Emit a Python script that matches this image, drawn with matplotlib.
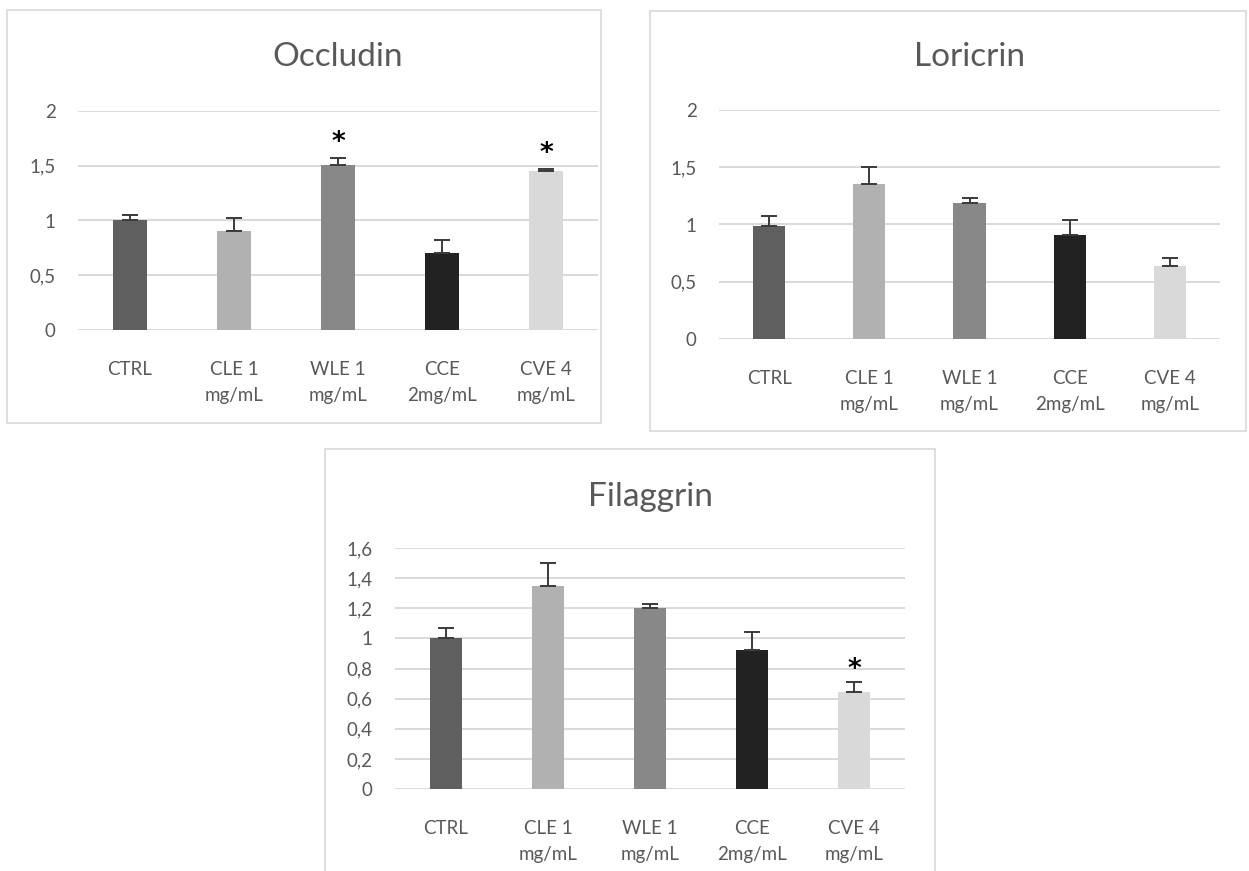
import matplotlib
matplotlib.use("Agg")
import matplotlib.pyplot as plt
from matplotlib.patches import Rectangle

plt.rcParams['font.family'] = ['Lato', 'DejaVu Sans']

categories = ["CTRL", "CLE 1\nmg/mL", "WLE 1\nmg/mL", "CCE\n2mg/mL", "CVE 4\nmg/mL"]
bar_colors = ["#5f5f5f", "#b1b1b1", "#888888", "#222222", "#d9d9d9"]

occludin_mean = [1.00, 0.90, 1.51, 0.70, 1.45]
occludin_err = [0.05, 0.12, 0.06, 0.12, 0.02]
occludin_sig = [False, False, True, False, True]
occludin_ticks = [0, 0.5, 1, 1.5, 2]
occludin_ticklabels = ["0", "0,5", "1", "1,5", "2"]

loricrin_mean = [0.99, 1.35, 1.19, 0.91, 0.64]
loricrin_err = [0.08, 0.15, 0.04, 0.13, 0.07]
loricrin_sig = [False, False, False, False, False]
loricrin_ticks = [0, 0.5, 1, 1.5, 2]
loricrin_ticklabels = ["0", "0,5", "1", "1,5", "2"]

filaggrin_mean = [1.00, 1.35, 1.20, 0.92, 0.645]
filaggrin_err = [0.07, 0.15, 0.03, 0.12, 0.065]
filaggrin_sig = [False, False, False, False, True]
filaggrin_ticks = [0, 0.2, 0.4, 0.6, 0.8, 1.0, 1.2, 1.4, 1.6]
filaggrin_ticklabels = ["0", "0,2", "0,4", "0,6", "0,8", "1", "1,2", "1,4", "1,6"]

W, H = 1249, 871
fig = plt.figure(figsize=(W / 100, H / 100), dpi=100)
fig.patch.set_facecolor("white")

TEXT = "#595959"
GRID = "#d9d9d9"


def px_axes(x0, y0, x1, y1):
    return fig.add_axes([x0 / W, 1 - y1 / H, (x1 - x0) / W, (y1 - y0) / H])


def frame(x0, y0, x1, y1):
    fig.patches.append(Rectangle((x0 / W, 1 - y1 / H), (x1 - x0) / W, (y1 - y0) / H,
                                 transform=fig.transFigure, fill=False,
                                 edgecolor=GRID, linewidth=1.2))


def panel(ax, title, means, errs, sig, ticks, ticklabels, title_y, star_offset):
    x = list(range(len(categories)))
    ax.bar(x, means, width=0.32, color=bar_colors, zorder=3)
    ax.errorbar(x, means, yerr=[[0] * len(errs), errs], fmt="none",
                ecolor="#3a3a3a", elinewidth=1.4, capsize=6, capthick=1.4, zorder=4)
    for xi, m, e, s in zip(x, means, errs, sig):
        if s:
            ax.text(xi, m + e + star_offset, "*", ha="center", va="center",
                    fontsize=19, fontweight="bold", color="black",
                    family="DejaVu Sans", zorder=5)
    ax.set_xlim(-0.5, len(categories) - 0.5)
    ax.set_ylim(ticks[0], ticks[-1])
    ax.set_yticks(ticks)
    ax.set_yticklabels(ticklabels)
    ax.set_xticks(x)
    ax.set_xticklabels(categories, linespacing=1.65)
    ax.tick_params(axis="both", length=0, labelsize=13.5, labelcolor=TEXT)
    ax.tick_params(axis="y", pad=16)
    ax.tick_params(axis="x", pad=22)
    ax.grid(axis="y", color=GRID, linewidth=1.4, zorder=0)
    ax.set_axisbelow(True)
    for sp in ax.spines.values():
        sp.set_visible(False)
    ax.set_facecolor("none")
    ax.text(0.5, title_y, title, transform=ax.transAxes, ha="center", va="center",
            fontsize=24, color=TEXT)


# Occludin (top left)
frame(7, 10, 601, 423)
ax1 = px_axes(78, 111, 598, 330)
panel(ax1, "Occludin", occludin_mean, occludin_err, occludin_sig,
      occludin_ticks, occludin_ticklabels, 1.245, 0.14)

# Loricrin (top right)
frame(650, 11, 1246, 431)
ax2 = px_axes(719, 110, 1220, 339)
panel(ax2, "Loricrin", loricrin_mean, loricrin_err, loricrin_sig,
      loricrin_ticks, loricrin_ticklabels, 1.23, 0.14)

# Filaggrin (bottom)
frame(325, 449, 935, 900)
ax3 = px_axes(395, 548, 905, 789)
panel(ax3, "Filaggrin", filaggrin_mean, filaggrin_err, filaggrin_sig,
      filaggrin_ticks, filaggrin_ticklabels, 1.21, 0.08)

fig.savefig("out.png", dpi=100, facecolor="white")
